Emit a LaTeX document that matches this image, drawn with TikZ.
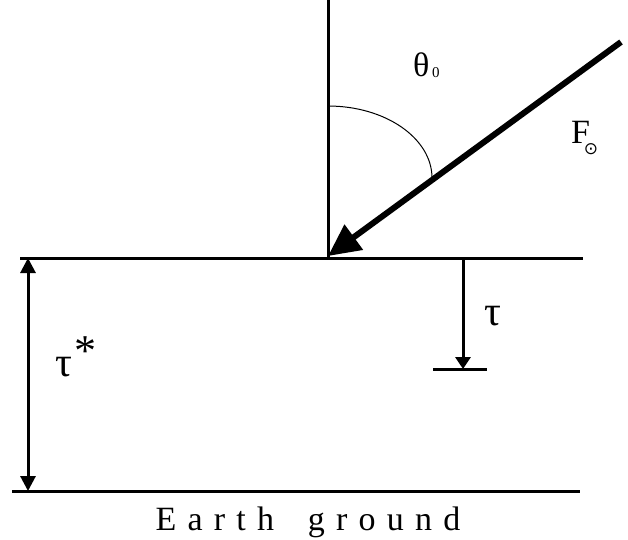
\documentclass[tikz,border=0pt]{standalone}
\usepackage{fontspec}
\setmainfont{Liberation Serif}
\newfontfamily\symf{DejaVu Sans}
\usetikzlibrary{arrows.meta}
\begin{document}
\begin{tikzpicture}[x=1pt,y=-1pt,
  rule/.style={line width=3pt},
  lbl/.style={inner sep=0pt, font=\fontsize{34}{38}\selectfont},
  taulbl/.style={inner sep=0pt, font=\fontsize{42}{46}\selectfont}]
\useasboundingbox (0,0) rectangle (628,539);
% points
\coordinate (vtop) at (328,0);
\coordinate (O) at (328,258);
\coordinate (sl) at (20,258);
\coordinate (sr) at (583,258);
\coordinate (gl) at (12,491);
\coordinate (gr) at (580,491);
\coordinate (dt) at (28,258);
\coordinate (db) at (28,491);
\coordinate (tt) at (463,258);
\coordinate (tb) at (463,369);
\coordinate (cl) at (433,369);
\coordinate (cr) at (487,369);
\coordinate (fs) at (621,42);
\coordinate (ftip) at (328,256);
\coordinate (arcs) at (328,106);
% lines
\draw[rule] (vtop) -- (O);
\draw[rule] (sl) -- (sr);
\draw[rule] (gl) -- (gr);
\draw[rule, {Triangle[length=15pt,width=15pt]}-{Triangle[length=15pt,width=15pt]}] (dt) -- (db);
\draw[rule, -{Triangle[length=12pt,width=15pt]}] (tt) -- (tb);
\draw[rule] (cl) -- (cr);
\draw[line width=1pt] (arcs) arc[start angle=-90, end angle=0, x radius=104, y radius=72];
\draw[line width=6pt, -{Triangle[length=32pt,width=30pt]}] (fs) -- (ftip);
% labels
\node[lbl, anchor=base west] (theta) at (413,76) {θ};
\node[inner sep=0pt, anchor=base west, font=\fontsize{15}{15}\selectfont] (zero) at (432,77) {0};
\node[lbl, anchor=base west] (F) at (571,143) {F};
\node[inner sep=0pt, font=\symf\fontsize{17}{17}\selectfont] (sun) at (591,149) {⊙};
\node[taulbl] (tau) at (493,316) {τ};
\node[taulbl] (taus) at (64,367) {τ};
\node[inner sep=0pt, font=\fontsize{44}{44}\selectfont, anchor=north] (star) at (85,336) {*};
\node[inner sep=0pt, anchor=base, font=\fontsize{34}{38}\selectfont\addfontfeature{LetterSpace=33}] (earth) at (308,530) {Earth\hspace{14pt} ground};
\end{tikzpicture}
\end{document}
